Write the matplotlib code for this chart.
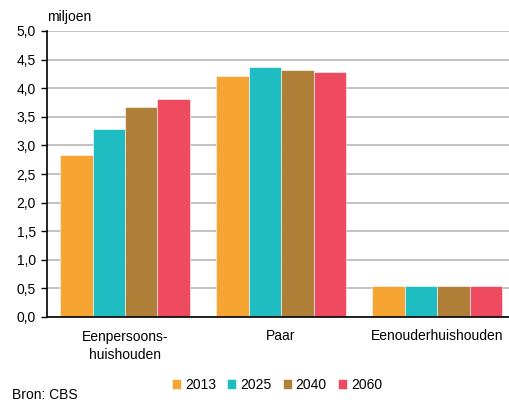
import matplotlib
matplotlib.use("Agg")
import matplotlib.pyplot as plt
import numpy as np

plt.rcParams["font.family"] = ["Liberation Sans", "DejaVu Sans"]
plt.rcParams["font.size"] = 10

categories = ["Eenpersoons-\nhuishouden", "Paar", "Eenouderhuishouden"]
years = ["2013", "2025", "2040", "2060"]
eenpersoons = [2.83, 3.29, 3.67, 3.81]
paar = [4.21, 4.37, 4.32, 4.28]
eenouder = [0.54, 0.54, 0.54, 0.54]
colors = ["#F7A532", "#1FBDC1", "#B07F38", "#EE4B60"]

values = np.array([eenpersoons, paar, eenouder])  # rows: category, cols: year

fig = plt.figure(figsize=(5.10, 4.04), dpi=100)
ax = fig.add_axes([47 / 510, 1 - 317 / 404, 1 - 47 / 510 + 0.01, (317 - 31) / 404])

x = np.arange(len(categories))
width = 0.208
for i, year in enumerate(years):
    ax.bar(x + (i - 1.5) * width, values[:, i], width, color=colors[i],
           edgecolor="white", linewidth=0.4, label=year, zorder=3)

ax.set_xlim(-0.5, 2.5)
ax.set_ylim(0, 5)
ticks = np.arange(0, 5.01, 0.5)
ax.set_yticks(ticks)
ax.set_yticklabels([f"{v:.1f}".replace(".", ",") for v in ticks])
ax.set_xticks(x)
ax.set_xticklabels(categories, linespacing=1.45)
ax.tick_params(axis="x", length=0, pad=9)
ax.tick_params(axis="y", length=4, width=1, direction="out", pad=4)
ax.grid(axis="y", color="#BDBDBD", linewidth=1.3, zorder=0)
for side in ["top", "right"]:
    ax.spines[side].set_visible(False)
ax.spines["left"].set_linewidth(1.2)
ax.spines["bottom"].set_linewidth(1.2)
ax.spines["bottom"].set_zorder(4)

fig.text(47 / 510, 1 - 17 / 404, "miljoen", ha="left", va="center")
fig.text(12 / 510, 2 / 404, "Bron: CBS", ha="left", va="bottom")

fig.legend(loc="center", bbox_to_anchor=(277 / 510, 1 - 385 / 404), ncol=4,
           frameon=False, handlelength=0.65, handleheight=0.65, handletextpad=0.3,
           columnspacing=0.8, borderaxespad=0)

fig.savefig("out.png", dpi=100)
